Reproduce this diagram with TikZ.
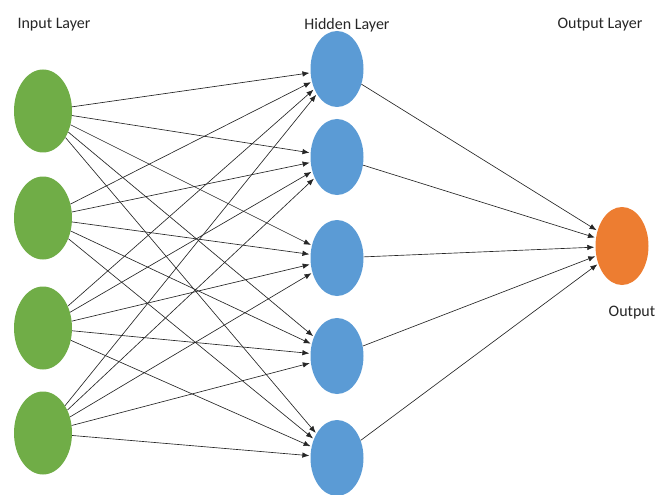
\documentclass[tikz,border=0pt]{standalone}
\usepackage{fontspec}
\setmainfont{Carlito}
\usetikzlibrary{shapes.geometric,arrows.meta}
\definecolor{ingreen}{RGB}{112,173,71}
\definecolor{hidblue}{RGB}{91,155,213}
\definecolor{outorange}{RGB}{237,125,49}
\tikzset{
    neuron/.style={ellipse, inner sep=0pt},
    inneuron/.style={neuron, fill=ingreen, minimum width=58pt, minimum height=83pt},
    hidneuron/.style={neuron, fill=hidblue, minimum width=53pt, minimum height=76pt},
    outneuron/.style={neuron, fill=outorange, minimum width=53pt, minimum height=78pt},
    layerlabel/.style={font=\fontsize{16}{18}\selectfont, text=black!85},
    link/.style={-{Latex[length=7pt,width=5.5pt]}, draw=black!85, line width=0.65pt, shorten >=1pt},
  }
\begin{document}
\begin{tikzpicture}[x=1pt, y=-1pt]
    %cadre
    \useasboundingbox (0,0) rectangle (657,495);
    %couches
    \foreach \i/\y in {1/111,2/218,3/328,4/433}
        \node[inneuron] (I\i) at (43,\y) {};
    \foreach \j/\y in {1/69,2/157,3/258,4/356,5/458}
        \node[hidneuron] (H\j) at (337,\y) {};
    \node[outneuron] (O) at (622,246) {};
    %titres
    \node[layerlabel] (tin) at (54,25) {Input Layer};
    \node[layerlabel] (thid) at (347,25) {Hidden Layer};
    \node[layerlabel] (tout) at (600,25) {Output Layer};
    \node[layerlabel] (tres) at (632,313) {Output};
    %liaisons
    \foreach \i in {1,...,4}
        \foreach \j in {1,...,5}
            \draw[link] (I\i) -- (H\j);
    \foreach \j in {1,...,5}
        \draw[link] (H\j) -- (O);
\end{tikzpicture}
\end{document}
